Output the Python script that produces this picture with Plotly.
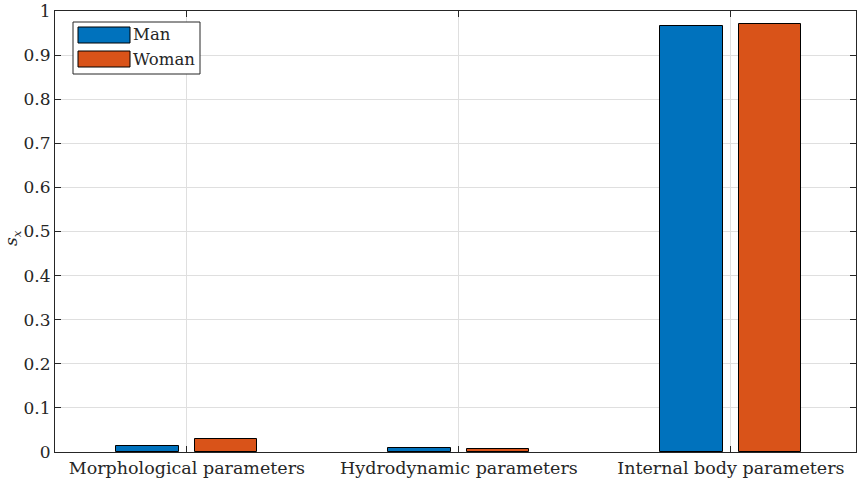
import plotly.graph_objects as go

categories = ["Morphological parameters", "Hydrodynamic parameters", "Internal body parameters"]
man_values = [0.0125, 0.0095, 0.967]
woman_values = [0.0300, 0.0065, 0.970]
y_ticks = [0, 0.1, 0.2, 0.3, 0.4, 0.5, 0.6, 0.7, 0.8, 0.9, 1]
y_tick_labels = ["0", "0.1", "0.2", "0.3", "0.4", "0.5", "0.6", "0.7", "0.8", "0.9", "1"]

BLUE = "#0072BD"
ORANGE = "#D95319"
AX = "#262626"
FONT = "DejaVu Serif"

x = [1, 2, 3]
bw = 0.23
off = 0.1445

OX, OY = 0, 0
W, H = 863, 482
ML, MR, MT, MB = 55, 7, 11, 30

fig = go.Figure()
fig.add_trace(go.Bar(x=[v - off for v in x], y=man_values, width=bw, name="Man",
                     marker=dict(color=BLUE, line=dict(color="black", width=1)), showlegend=False))
fig.add_trace(go.Bar(x=[v + off for v in x], y=woman_values, width=bw, name="Woman",
                     marker=dict(color=ORANGE, line=dict(color="black", width=1)), showlegend=False))

# manual MATLAB-style legend (window pixel positions converted to paper coords)
L = W - ML - MR
T = H - MT - MB
def px(xp):
    return (xp - OX - ML) / L
def py(yp):
    return (OY + H - MB - yp) / T

fig.add_shape(type="rect", xref="paper", yref="paper", x0=px(73), x1=px(200), y0=py(74), y1=py(22),
              line=dict(color=AX, width=1), fillcolor="white", layer="above")
for i, (name, col) in enumerate([("Man", BLUE), ("Woman", ORANGE)]):
    yc = 35 + i * 24
    fig.add_shape(type="rect", xref="paper", yref="paper", x0=px(78), x1=px(130), y0=py(yc + 8), y1=py(yc - 8),
                  line=dict(color="black", width=1), fillcolor=col, layer="above")
    fig.add_annotation(xref="paper", yref="paper", x=px(131), y=py(yc), text=name, showarrow=False,
                       xanchor="left", yanchor="middle", font=dict(family=FONT, size=16.5, color=AX))

fig.add_annotation(xref="paper", yref="paper", x=px(12), y=py(238), text="<i>s</i><sub><i>x</i></sub>",
                   showarrow=False, textangle=-90, xanchor="center", yanchor="middle",
                   font=dict(family=FONT, size=17, color=AX))

fig.update_layout(
    width=W, height=H,
    margin=dict(l=ML, r=MR, t=MT, b=MB),
    paper_bgcolor="white", plot_bgcolor="white",
    bargap=0, barmode="overlay",
    font=dict(family=FONT, size=17.5, color=AX),
)
fig.update_xaxes(range=[0.515, 3.46], tickvals=x, ticktext=categories, automargin=False,
                 showgrid=True, gridcolor="#dfdfdf", gridwidth=1,
                 showline=True, linecolor=AX, linewidth=1, mirror="ticks",
                 ticks="inside", ticklen=6, tickcolor=AX, zeroline=False,
                 tickfont=dict(family=FONT, size=17.5, color=AX))
fig.update_yaxes(range=[0, 1], tickvals=y_ticks, ticktext=y_tick_labels, automargin=False,
                 showgrid=True, gridcolor="#dfdfdf", gridwidth=1,
                 showline=True, linecolor=AX, linewidth=1, mirror="ticks",
                 ticks="inside", ticklen=6, tickcolor=AX, zeroline=False,
                 tickfont=dict(family=FONT, size=17, color=AX))

fig.write_html("out.html", config={"displayModeBar": False},
               post_script="document.body.style.margin='0';document.body.style.overflow='hidden';")
